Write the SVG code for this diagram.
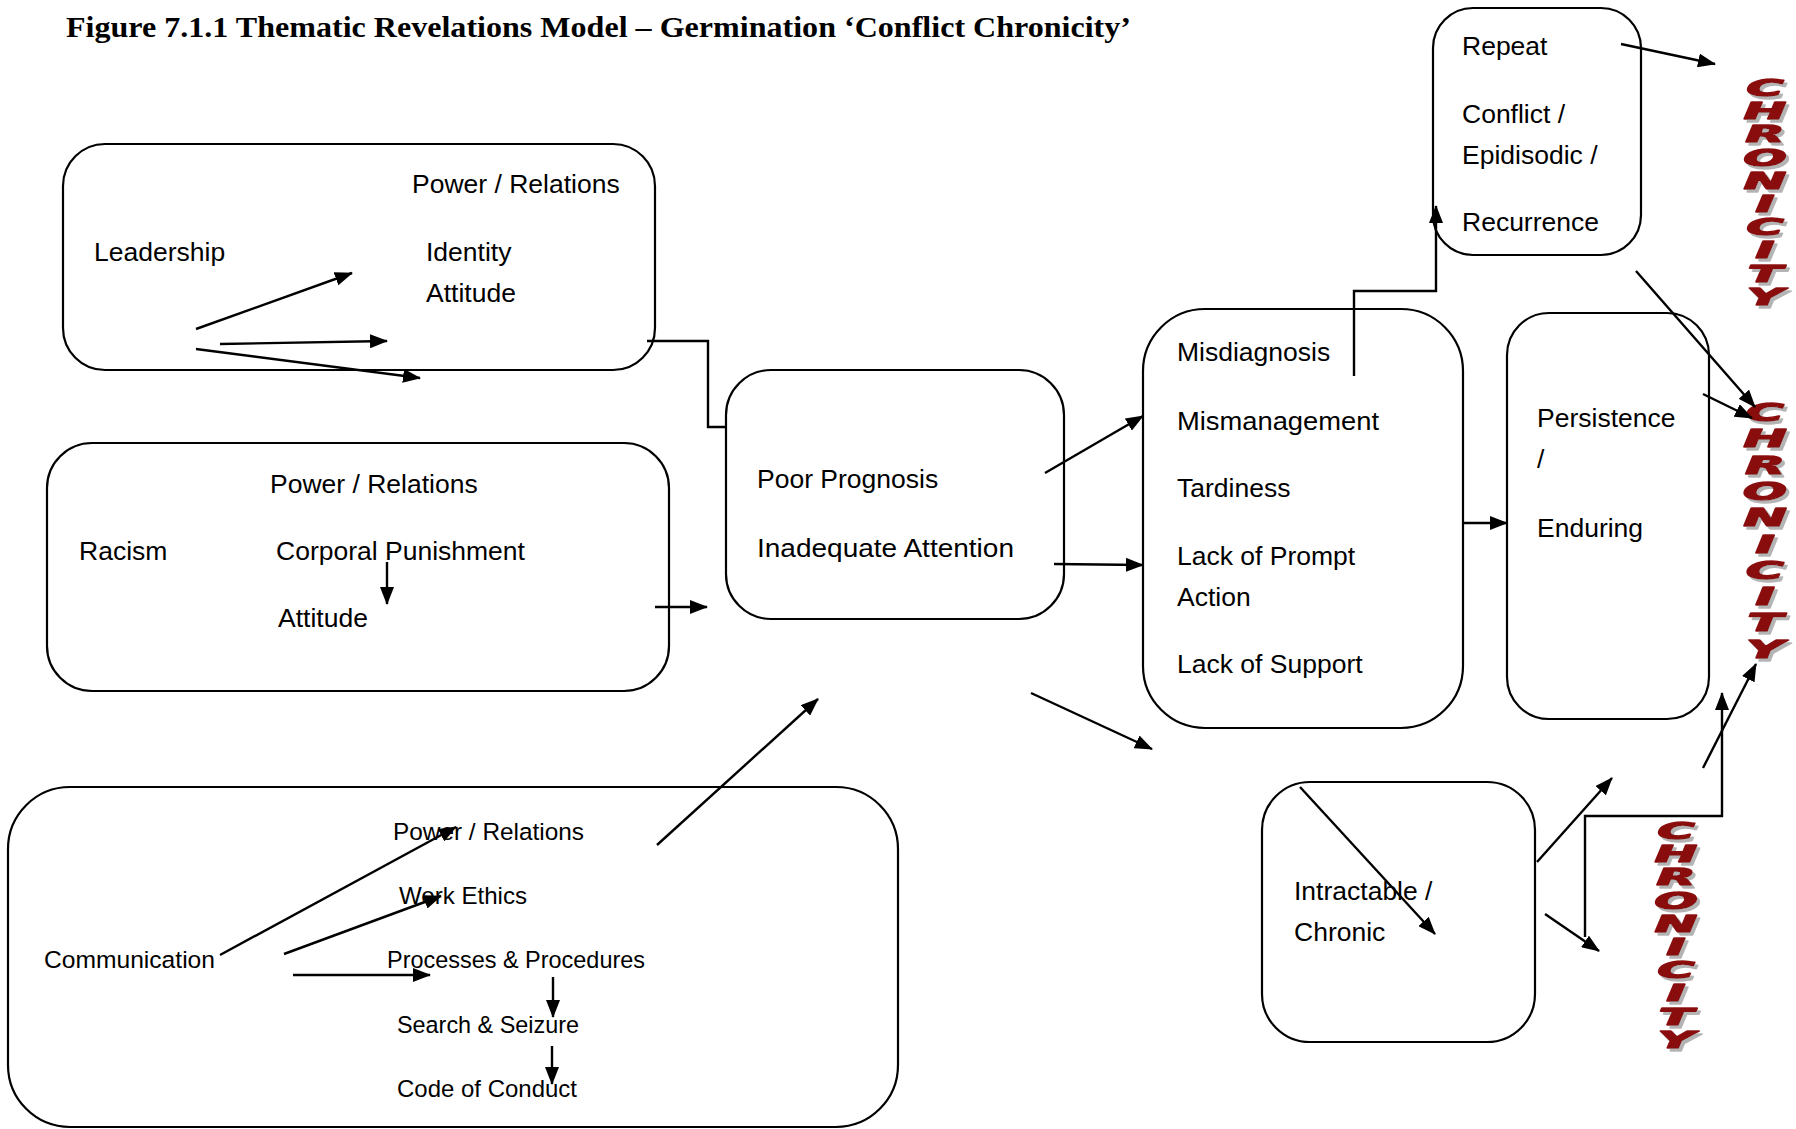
<svg xmlns="http://www.w3.org/2000/svg" width="1796" height="1129" viewBox="0 0 1796 1129">
<style>
  .box { fill: none; stroke: #000; stroke-width: 2.2; }
  .t { font-family: "Liberation Sans", Arial, sans-serif; font-size: 26.5px; fill: #000; }
  .ts { font-family: "Liberation Sans", Arial, sans-serif; font-size: 24.5px; fill: #000; }
  .title { font-family: "Liberation Serif", "Times New Roman", serif; font-weight: bold; font-size: 30px; fill: #000; }
  .ln { fill: none; stroke: #000; stroke-width: 2.4; }
  .ar { fill: none; stroke: #000; stroke-width: 2.4; marker-end: url(#ah); }
  .chr { font-family: "DejaVu Sans", Verdana, sans-serif; font-weight: bold; font-style: italic; text-anchor: middle; fill: #8a0c0c; stroke: #8a0c0c; stroke-width: 1.4; stroke-linejoin: round; }
  .c1 text { font-size: 23px; }
  .c2 text { font-size: 24px; }
</style>
<defs>
  <marker id="ah" markerUnits="userSpaceOnUse" markerWidth="18" markerHeight="14" viewBox="0 0 18 14" refX="17" refY="7" orient="auto">
    <path d="M0,0 L18,7 L0,14 z" fill="#000"/>
  </marker>
  <filter id="shadow" x="-10%" y="-5%" width="120%" height="110%">
    <feOffset in="SourceAlpha" dx="3" dy="3" result="off"/>
    <feFlood flood-color="#b4b4b4"/>
    <feComposite in2="off" operator="in" result="sh"/>
    <feMerge>
      <feMergeNode in="sh"/>
      <feMergeNode in="SourceGraphic"/>
    </feMerge>
  </filter>
</defs>
<rect width="1796" height="1129" fill="#fff"/>

<text class="title" x="66" y="37" textLength="1065" lengthAdjust="spacingAndGlyphs">Figure 7.1.1 Thematic Revelations Model – Germination ‘Conflict Chronicity’</text>

<g id="node-leadership">
  <rect class="box" x="63" y="144" width="592" height="226" rx="42"/>
  <text class="t" x="412" y="193">Power / Relations</text>
  <text class="t" x="94" y="261">Leadership</text>
  <text class="t" x="426" y="261">Identity</text>
  <text class="t" x="426" y="302">Attitude</text>
</g>

<g id="node-racism">
  <rect class="box" x="47" y="443" width="622" height="248" rx="45"/>
  <text class="t" x="270" y="493">Power / Relations</text>
  <text class="t" x="79" y="560">Racism</text>
  <text class="t" x="276" y="560">Corporal Punishment</text>
  <text class="t" x="278" y="627">Attitude</text>
</g>

<g id="node-communication">
  <rect class="box" x="8" y="787" width="890" height="340" rx="62"/>
  <text class="ts" x="393" y="840" textLength="191" lengthAdjust="spacingAndGlyphs">Power / Relations</text>
  <text class="ts" x="399" y="904" textLength="128" lengthAdjust="spacingAndGlyphs">Work Ethics</text>
  <text class="ts" x="44" y="968" textLength="171" lengthAdjust="spacingAndGlyphs">Communication</text>
  <text class="ts" x="387" y="968" textLength="258" lengthAdjust="spacingAndGlyphs">Processes &amp; Procedures</text>
  <text class="ts" x="397" y="1033" textLength="182" lengthAdjust="spacingAndGlyphs">Search &amp; Seizure</text>
  <text class="ts" x="397" y="1097" textLength="180" lengthAdjust="spacingAndGlyphs">Code of Conduct</text>
</g>

<g id="node-prognosis">
  <rect class="box" x="726" y="370" width="338" height="249" rx="45"/>
  <text class="t" x="757" y="488">Poor Prognosis</text>
  <text class="t" x="757" y="557" textLength="257" lengthAdjust="spacingAndGlyphs">Inadequate Attention</text>
</g>

<g id="node-misdiagnosis">
  <rect class="box" x="1143" y="309" width="320" height="419" rx="62"/>
  <text class="t" x="1177" y="361">Misdiagnosis</text>
  <text class="t" x="1177" y="430" textLength="202" lengthAdjust="spacingAndGlyphs">Mismanagement</text>
  <text class="t" x="1177" y="497">Tardiness</text>
  <text class="t" x="1177" y="565">Lack of Prompt</text>
  <text class="t" x="1177" y="606">Action</text>
  <text class="t" x="1177" y="673">Lack of Support</text>
</g>

<g id="node-repeat">
  <rect class="box" x="1433" y="8" width="208" height="247" rx="40"/>
  <text class="t" x="1462" y="55">Repeat</text>
  <text class="t" x="1462" y="123">Conflict /</text>
  <text class="t" x="1462" y="164">Epidisodic /</text>
  <text class="t" x="1462" y="231">Recurrence</text>
</g>

<g id="node-persistence">
  <rect class="box" x="1507" y="313" width="202" height="406" rx="42"/>
  <text class="t" x="1537" y="427">Persistence</text>
  <text class="t" x="1537" y="468">/</text>
  <text class="t" x="1537" y="537">Enduring</text>
</g>

<g id="node-intractable">
  <rect class="box" x="1262" y="782" width="273" height="260" rx="48"/>
  <text class="t" x="1294" y="900">Intractable /</text>
  <text class="t" x="1294" y="941">Chronic</text>
</g>

<g id="chronicity-1" class="chr c1" filter="url(#shadow)">
  <text transform="translate(1765,96) scale(2.2,1)">C</text>
  <text transform="translate(1765,119.2) scale(2.2,1)">H</text>
  <text transform="translate(1765,142.4) scale(2.2,1)">R</text>
  <text transform="translate(1765,165.6) scale(2.2,1)">O</text>
  <text transform="translate(1765,188.8) scale(2.2,1)">N</text>
  <text transform="translate(1765,212) scale(2.2,1)">I</text>
  <text transform="translate(1765,235.2) scale(2.2,1)">C</text>
  <text transform="translate(1765,258.4) scale(2.2,1)">I</text>
  <text transform="translate(1765,281.6) scale(2.2,1)">T</text>
  <text transform="translate(1765,304.8) scale(2.2,1)">Y</text>
</g>

<g id="chronicity-2" class="chr c2" filter="url(#shadow)">
  <text transform="translate(1765,421) scale(2.15,1)">C</text>
  <text transform="translate(1765,447.3) scale(2.15,1)">H</text>
  <text transform="translate(1765,473.6) scale(2.15,1)">R</text>
  <text transform="translate(1765,499.9) scale(2.15,1)">O</text>
  <text transform="translate(1765,526.2) scale(2.15,1)">N</text>
  <text transform="translate(1765,552.5) scale(2.15,1)">I</text>
  <text transform="translate(1765,578.8) scale(2.15,1)">C</text>
  <text transform="translate(1765,605.1) scale(2.15,1)">I</text>
  <text transform="translate(1765,631.4) scale(2.15,1)">T</text>
  <text transform="translate(1765,657.7) scale(2.15,1)">Y</text>
</g>

<g id="chronicity-3" class="chr c1" filter="url(#shadow)">
  <text transform="translate(1676,839) scale(2.2,1)">C</text>
  <text transform="translate(1676,862.2) scale(2.2,1)">H</text>
  <text transform="translate(1676,885.4) scale(2.2,1)">R</text>
  <text transform="translate(1676,908.6) scale(2.2,1)">O</text>
  <text transform="translate(1676,931.8) scale(2.2,1)">N</text>
  <text transform="translate(1676,955) scale(2.2,1)">I</text>
  <text transform="translate(1676,978.2) scale(2.2,1)">C</text>
  <text transform="translate(1676,1001.4) scale(2.2,1)">I</text>
  <text transform="translate(1676,1024.6) scale(2.2,1)">T</text>
  <text transform="translate(1676,1047.8) scale(2.2,1)">Y</text>
</g>

<g id="connectors">
  <line class="ar" x1="196" y1="329" x2="352" y2="273"/>
  <line class="ar" x1="220" y1="344" x2="387" y2="341"/>
  <line class="ar" x1="196" y1="349" x2="420" y2="378"/>
  <polyline class="ln" points="647,341 708,341 708,427 726,427"/>
  <line class="ar" x1="387" y1="562" x2="387" y2="604"/>
  <line class="ar" x1="655" y1="607" x2="707" y2="607"/>
  <line class="ar" x1="220" y1="955" x2="456" y2="827"/>
  <line class="ar" x1="284" y1="954" x2="441" y2="896"/>
  <line class="ar" x1="293" y1="975" x2="430" y2="975"/>
  <line class="ar" x1="553" y1="977" x2="553" y2="1017"/>
  <line class="ar" x1="552" y1="1046" x2="552" y2="1084"/>
  <line class="ar" x1="657" y1="845" x2="818" y2="699"/>
  <line class="ar" x1="1045" y1="473" x2="1143" y2="416"/>
  <line class="ar" x1="1054" y1="564" x2="1143" y2="565"/>
  <line class="ar" x1="1031" y1="693" x2="1152" y2="749"/>
  <polyline class="ar" points="1354,376 1354,291 1436,291 1436,206"/>
  <line class="ar" x1="1621" y1="44" x2="1715" y2="64"/>
  <line class="ar" x1="1636" y1="271" x2="1755" y2="407"/>
  <line class="ar" x1="1703" y1="394" x2="1752" y2="418"/>
  <line class="ar" x1="1463" y1="523" x2="1507" y2="523"/>
  <line class="ar" x1="1300" y1="787" x2="1435" y2="934"/>
  <line class="ar" x1="1537" y1="862" x2="1612" y2="778"/>
  <line class="ar" x1="1545" y1="914" x2="1599" y2="951"/>
  <polyline class="ar" points="1585,937 1585,816 1722,816 1722,693"/>
  <line class="ar" x1="1703" y1="768" x2="1756" y2="664"/>
</g>
</svg>
